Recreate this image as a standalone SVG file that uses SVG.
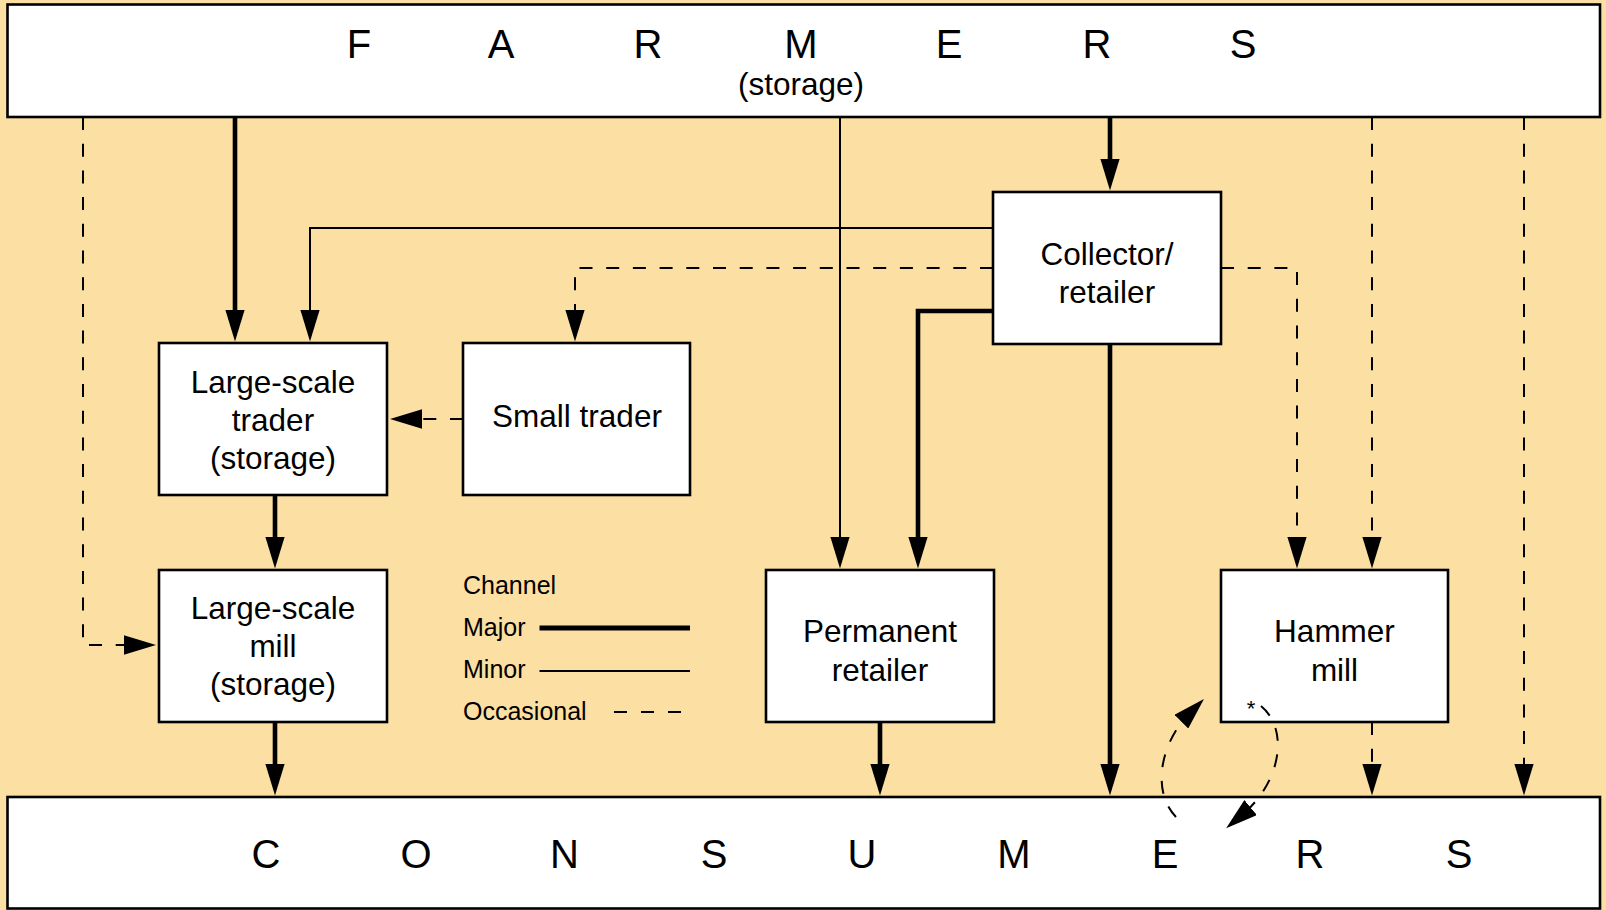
<svg xmlns="http://www.w3.org/2000/svg" width="1606" height="910" viewBox="0 0 1606 910">
  <style>
    .bg { fill: #FBDFA3; }
    .box { fill: #FFFFFF; stroke: #000000; stroke-width: 2.6; }
    .label { font-family: "Liberation Sans", Arial, Helvetica, sans-serif; font-size: 31.5px; fill: #000000; text-anchor: middle; }
    .big { font-family: "Liberation Sans", Arial, Helvetica, sans-serif; font-size: 40px; fill: #000000; text-anchor: middle; }
    .legend { font-family: "Liberation Sans", Arial, Helvetica, sans-serif; font-size: 25px; fill: #000000; }
    .star { font-family: "Liberation Sans", Arial, Helvetica, sans-serif; font-size: 22px; fill: #000000; text-anchor: middle; }
    .major { fill: none; stroke: #000000; stroke-width: 4.6; }
    .minor { fill: none; stroke: #000000; stroke-width: 2; }
    .occ { fill: none; stroke: #000000; stroke-width: 2; stroke-dasharray: 13 13.7; }
    .arrow { marker-end: url(#head); }
  </style>
  <defs>
    <marker id="head" viewBox="0 0 32 19.5" refX="10" refY="9.75" markerWidth="32" markerHeight="19.5" markerUnits="userSpaceOnUse" orient="auto">
      <path d="M0,0 L32,9.75 L0,19.5 Z" fill="#000000" stroke="none"/>
    </marker>
  </defs>

  <rect class="bg" x="0" y="0" width="1606" height="910"/>

  <!-- producers band -->
  <g id="farmers">
    <rect class="box" x="7.5" y="4.5" width="1592.5" height="112.5"/>
    <text class="big" x="359" y="57.7">F</text>
    <text class="big" x="501" y="57.7">A</text>
    <text class="big" x="648" y="57.7">R</text>
    <text class="big" x="801" y="57.7">M</text>
    <text class="big" x="949" y="57.7">E</text>
    <text class="big" x="1097" y="57.7">R</text>
    <text class="big" x="1243" y="57.7">S</text>
    <text class="label" x="801" y="95">(storage)</text>
  </g>

  <!-- end-user band -->
  <g id="consumers">
    <rect class="box" x="7.5" y="797" width="1592.5" height="111.5"/>
    <text class="big" x="266" y="868">C</text>
    <text class="big" x="416" y="868">O</text>
    <text class="big" x="564.5" y="868">N</text>
    <text class="big" x="714" y="868">S</text>
    <text class="big" x="862" y="868">U</text>
    <text class="big" x="1014" y="868">M</text>
    <text class="big" x="1165" y="868">E</text>
    <text class="big" x="1310" y="868">R</text>
    <text class="big" x="1459" y="868">S</text>
  </g>

  <g id="large-scale-trader">
    <rect class="box" x="159" y="343" width="228" height="152"/>
    <text class="label" x="273" y="393">Large-scale</text>
    <text class="label" x="273" y="431">trader</text>
    <text class="label" x="273" y="469">(storage)</text>
  </g>

  <g id="small-trader">
    <rect class="box" x="463" y="343" width="227" height="152"/>
    <text class="label" x="577" y="427">Small trader</text>
  </g>

  <g id="collector-retailer">
    <rect class="box" x="993" y="192" width="228" height="152"/>
    <text class="label" x="1107" y="265">Collector/</text>
    <text class="label" x="1107" y="303">retailer</text>
  </g>

  <g id="large-scale-mill">
    <rect class="box" x="159" y="570" width="228" height="152"/>
    <text class="label" x="273" y="619">Large-scale</text>
    <text class="label" x="273" y="657">mill</text>
    <text class="label" x="273" y="695">(storage)</text>
  </g>

  <g id="permanent-retailer">
    <rect class="box" x="766" y="570" width="228" height="152"/>
    <text class="label" x="880" y="642">Permanent</text>
    <text class="label" x="880" y="681">retailer</text>
  </g>

  <g id="hammer-mill">
    <rect class="box" x="1221" y="570" width="227" height="152"/>
    <text class="label" x="1334.5" y="642">Hammer</text>
    <text class="label" x="1334.5" y="681">mill</text>
  </g>

  <!-- key to line weights -->
  <g id="legend">
    <text class="legend" x="463" y="594">Channel</text>
    <text class="legend" x="463" y="636">Major</text>
    <line x1="539.5" y1="628" x2="690" y2="628" stroke="#000000" stroke-width="5"/>
    <text class="legend" x="463" y="678">Minor</text>
    <line x1="539.5" y1="671" x2="690" y2="671" stroke="#000000" stroke-width="2"/>
    <text class="legend" x="463" y="720">Occasional</text>
    <line x1="614" y1="712" x2="681" y2="712" stroke="#000000" stroke-width="2" stroke-dasharray="13 14"/>
  </g>

  <g id="connectors">
    <!-- from farmers -->
    <path class="occ arrow" d="M83,117 V645 H134"/>
    <path class="major arrow" d="M235,117 V319.5"/>
    <path class="minor arrow" d="M840,117 V546.5"/>
    <path class="major arrow" d="M1110,117 V168.5"/>
    <path class="occ arrow" d="M1372,117 V546.5"/>
    <path class="occ arrow" d="M1524,117 V773.5"/>
    <!-- from collector/retailer -->
    <path class="minor arrow" d="M993,228 H310 V319.5"/>
    <path class="occ arrow" d="M993,268 H575 V319.5"/>
    <path class="major arrow" d="M993,311 H918 V546.5"/>
    <path class="occ arrow" d="M1221,268 H1297 V546.5"/>
    <path class="major arrow" d="M1110,344 V773.5"/>
    <!-- between intermediaries -->
    <path class="occ arrow" d="M463,419 H412"/>
    <path class="major arrow" d="M275,495 V546.5"/>
    <!-- to consumers -->
    <path class="major arrow" d="M275,722 V773.5"/>
    <path class="major arrow" d="M880,722 V773.5"/>
    <path class="occ arrow" d="M1372,722 V773.5"/>
    <!-- two-way exchange with the hammer mill -->
    <path class="occ arrow" d="M1176,817 C1150,790 1162.4,740.6 1188.4,714.6"/>
    <path class="occ arrow" d="M1261,706 C1290,730 1280,783 1243,814"/>
    <text class="star" x="1251" y="716">*</text>
  </g>
</svg>
